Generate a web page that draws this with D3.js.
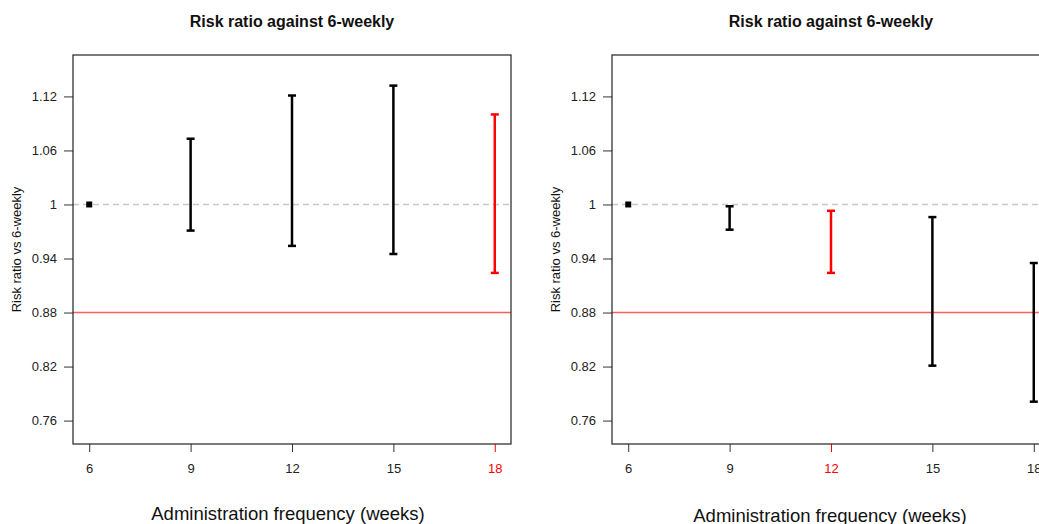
<!DOCTYPE html>
<html><head><meta charset="utf-8">
<script src="https://cdn.jsdelivr.net/npm/d3@7"></script>
<style>body{margin:0;background:#fff}svg{display:block}text{font-family:"Liberation Sans",Arial,sans-serif}</style>
</head><body>
<svg id="c" width="1039" height="524"></svg>
<script>
const weeks = [6, 9, 12, 15, 18];
const yTicks = [0.76, 0.82, 0.88, 0.94, 1.00, 1.06, 1.12];
const yTickLabels = ["0.76", "0.82", "0.88", "0.94", "1", "1.06", "1.12"];
const leftLower = [1.000, 0.971, 0.954, 0.945, 0.924];
const leftUpper = [1.000, 1.073, 1.121, 1.132, 1.100];
const leftHighlight = 18;
const rightLower = [1.000, 0.972, 0.924, 0.821, 0.781];
const rightUpper = [1.000, 0.998, 0.993, 0.986, 0.935];
const rightHighlight = 12;
const refLine = 1.0;
const thresholdLine = 0.88;
const titleText = "Risk ratio against 6-weekly";
const xLabel = "Administration frequency (weeks)";
const yLabel = "Risk ratio vs 6-weekly";

const svg = d3.select("#c");
const panels = [
  {x0: 73, x1: 511, lower: leftLower, upper: leftUpper, hl: leftHighlight, xlabY: 514, xlabDx: -4},
  {x0: 612, x1: 1050, lower: rightLower, upper: rightUpper, hl: rightHighlight, xlabY: 516, xlabDx: -1}
];
const plotTop = 55, plotBottom = 444;

panels.forEach(p => {
  const x = d3.scaleLinear().domain([5.52, 18.48]).range([p.x0, p.x1]);
  const y = d3.scaleLinear().domain([0.734, 1.166]).range([plotBottom, plotTop]);
  const g = svg.append("g");

  g.append("line").attr("x1", p.x0).attr("x2", p.x1).attr("y1", y(refLine)).attr("y2", y(refLine))
    .attr("stroke", "#c8c8c8").attr("stroke-width", 1.3).attr("stroke-dasharray", "6,4");
  g.append("line").attr("x1", p.x0).attr("x2", p.x1).attr("y1", y(thresholdLine)).attr("y2", y(thresholdLine))
    .attr("stroke", "#ff5c5c").attr("stroke-width", 1.5);

  const ya = d3.axisLeft(y).tickValues(yTicks).tickSize(9).tickPadding(7)
    .tickFormat((d, i) => yTickLabels[i]);
  const yg = g.append("g").attr("transform", `translate(${p.x0},0)`).call(ya);
  yg.select(".domain").remove();
  yg.selectAll("line").attr("stroke", "#333");
  yg.selectAll("text").attr("font-size", 13).attr("fill", "#222").attr("font-family", "Liberation Sans, Arial, sans-serif");

  const xa = d3.axisBottom(x).tickValues(weeks).tickSize(8).tickPadding(12).tickFormat(d3.format("d"));
  const xg = g.append("g").attr("transform", `translate(0,${plotBottom})`).call(xa);
  xg.select(".domain").remove();
  xg.selectAll(".tick line").attr("stroke", d => d === p.hl ? "#ff0000" : "#333");
  xg.selectAll(".tick text").attr("font-size", 13).attr("fill", d => d === p.hl ? "#ff0000" : "#222")
    .attr("font-family", "Liberation Sans, Arial, sans-serif");

  weeks.forEach((w, i) => {
    const col = w === p.hl ? "#ff0000" : "#000";
    const lo = p.lower[i], hi = p.upper[i];
    if (lo === hi) {
      g.append("rect").attr("x", x(w) - 3).attr("y", y(lo) - 3).attr("width", 6).attr("height", 6).attr("fill", col);
      return;
    }
    g.append("line").attr("x1", x(w)).attr("x2", x(w)).attr("y1", y(lo)).attr("y2", y(hi))
      .attr("stroke", col).attr("stroke-width", 2.5);
    [lo, hi].forEach(v => {
      g.append("line").attr("x1", x(w) - 4).attr("x2", x(w) + 4).attr("y1", y(v)).attr("y2", y(v))
        .attr("stroke", col).attr("stroke-width", 2.5);
    });
  });

  g.append("rect").attr("x", p.x0).attr("y", plotTop).attr("width", p.x1 - p.x0).attr("height", plotBottom - plotTop)
    .attr("fill", "none").attr("stroke", "#222").attr("stroke-width", 1.2);

  g.append("text").attr("x", (p.x0 + p.x1) / 2).attr("y", 27).attr("text-anchor", "middle")
    .attr("font-size", 16).attr("font-weight", "bold").attr("fill", "#111").text(titleText);
  g.append("text").attr("x", (p.x0 + p.x1) / 2 + p.xlabDx).attr("y", p.xlabY + 6).attr("text-anchor", "middle")
    .attr("font-size", 18.5).attr("fill", "#111").text(xLabel);
  g.append("text").attr("transform", `translate(${p.x0 - 52},${(plotTop + plotBottom) / 2}) rotate(-90)`)
    .attr("text-anchor", "middle").attr("font-size", 13).attr("fill", "#111").text(yLabel);
});
</script>
</body></html>
